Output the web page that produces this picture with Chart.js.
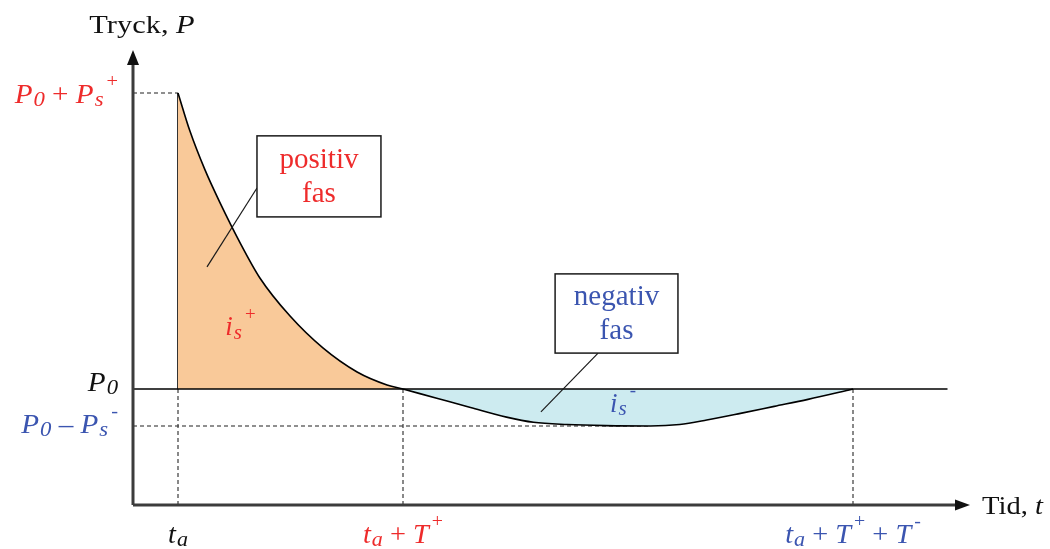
<!DOCTYPE html>
<html>
<head>
<meta charset="utf-8">
<script src="https://cdn.jsdelivr.net/npm/chart.js@4/dist/chart.umd.min.js"></script>
<style>
  html, body { margin: 0; padding: 0; background: #ffffff; }
  #wrap { width: 1050px; height: 549px; }
</style>
</head>
<body>
<div id="wrap"><canvas id="c" width="1050" height="549"></canvas></div>
<script>
// Blast wave: overpressure versus time (Friedlander-type record)
// Time axis in arbitrary units, pressure axis in kPa.
const arrivalTime = 2;          // t_a
const positiveEnd = 12;         // t_a + T+
const negativeEnd = 32;         // t_a + T+ + T-
const ambientP = 100;           // P0
const peakP = 180;              // P0 + Ps+
const minP = 90;                // P0 - Ps-

// positive phase (decay from peak back to ambient)
const posTime = [2, 2.53, 3.2, 3.87, 4.76, 5.64, 6.98, 8.44, 9.96, 11.29, 12];
const posPressure = [180, 169.7, 159.2, 150.3, 139.5, 130, 119.7, 111.1, 104.6, 101.1, 100];

// negative phase (underpressure and recovery)
const negTime = [12, 13.5, 15, 16.6, 17.8, 19.3, 21, 23, 24.3, 25.5, 27, 28.5, 30, 32];
const negPressure = [100, 97.5, 95.0, 92.4, 91.0, 90.4, 90.1, 90.0, 90.4, 91.6, 93.4, 95.3, 97.2, 100];

const RED = '#ee2b2b';
const BLUE = '#3b55b0';
const SERIF = '"Liberation Serif", "Times New Roman", serif';

// rich labels: segments {t: text, i: italic, s: 'sub' | 'sup'}
const yTickLabels = [
  { value: peakP, dy: 10, color: RED, segs: [{t:'P', i:1}, {t:'0', i:1, s:'sub'}, {t:' + '}, {t:'P', i:1}, {t:'s', i:1, s:'sub'}, {t:'+', s:'sup'}] },
  { value: ambientP, dy: 2, color: '#111111', segs: [{t:'P', i:1}, {t:'0', i:1, s:'sub'}] },
  { value: minP, dy: 7, color: BLUE, segs: [{t:'P', i:1}, {t:'0', i:1, s:'sub'}, {t:' \u2013 '}, {t:'P', i:1}, {t:'s', i:1, s:'sub'}, {t:'-', s:'sup'}] }
];
const xTickLabels = [
  { value: arrivalTime, color: '#111111', segs: [{t:'t', i:1}, {t:'a', i:1, s:'sub'}] },
  { value: positiveEnd, color: RED, segs: [{t:'t', i:1}, {t:'a', i:1, s:'sub'}, {t:' + '}, {t:'T', i:1}, {t:'+', s:'sup'}] },
  { value: negativeEnd, color: BLUE, segs: [{t:'t', i:1}, {t:'a', i:1, s:'sub'}, {t:' + '}, {t:'T', i:1}, {t:'+', s:'sup'}, {t:' + '}, {t:'T', i:1}, {t:'-', s:'sup'}] }
];

function toPoints(xs, ys) { return xs.map((x, k) => ({ x: x, y: ys[k] })); }

function fontFor(seg, size) {
  const sz = seg.s === 'sub' ? size * 0.78 : seg.s === 'sup' ? size * 0.7 : size;
  return (seg.i ? 'italic ' : '') + sz + 'px ' + SERIF;
}

function drawRich(ctx, segs, x, y, align, color, size, sx) {
  sx = sx || 1;
  ctx.save();
  ctx.fillStyle = color;
  ctx.textBaseline = 'alphabetic';
  ctx.textAlign = 'left';
  let total = 0;
  const widths = segs.map(seg => {
    ctx.font = fontFor(seg, size);
    const gap = seg.s === 'sup' ? 3 : seg.s === 'sub' ? 1 : 0;
    const w = ctx.measureText(seg.t).width * sx + gap;
    total += w;
    return w;
  });
  let cx = align === 'right' ? x - total : align === 'center' ? x - total / 2 : x;
  segs.forEach((seg, k) => {
    ctx.font = fontFor(seg, size);
    let dy = 0, gx = 0;
    if (seg.s === 'sub') { dy = size * 0.12; gx = 1; }
    if (seg.s === 'sup') { dy = -size * 0.58; gx = 3; }
    ctx.save();
    ctx.translate(cx + gx, y + dy);
    ctx.scale(sx, 1);
    ctx.fillText(seg.t, 0, 0);
    ctx.restore();
    cx += widths[k];
  });
  ctx.restore();
}

const diagramPlugin = {
  id: 'diagram',
  beforeDatasetsDraw(chart) {
    const ctx = chart.ctx, xs = chart.scales.x, ys = chart.scales.y, area = chart.chartArea;
    const X = v => xs.getPixelForValue(v), Y = v => ys.getPixelForValue(v);
    ctx.save();
    // reference dashes
    ctx.setLineDash([4, 3]);
    ctx.lineWidth = 1.5;
    ctx.strokeStyle = '#6b6b6b';
    ctx.beginPath();
    ctx.moveTo(area.left, Y(peakP)); ctx.lineTo(X(arrivalTime), Y(peakP));
    ctx.moveTo(area.left, Y(minP)); ctx.lineTo(X(23), Y(minP));
    ctx.stroke();
    ctx.lineWidth = 1.2;
    ctx.strokeStyle = '#3a3a3a';
    ctx.beginPath();
    [arrivalTime, positiveEnd, negativeEnd].forEach(t => {
      ctx.moveTo(X(t), Y(ambientP)); ctx.lineTo(X(t), area.bottom);
    });
    ctx.stroke();
    ctx.restore();
  },
  afterDatasetsDraw(chart) {
    const ctx = chart.ctx, xs = chart.scales.x, ys = chart.scales.y, area = chart.chartArea;
    const X = v => xs.getPixelForValue(v), Y = v => ys.getPixelForValue(v);
    ctx.save();
    // ambient pressure line
    ctx.strokeStyle = '#000000';
    ctx.lineWidth = 1.5;
    ctx.beginPath();
    ctx.moveTo(area.left, Y(ambientP)); ctx.lineTo(X(36.2), Y(ambientP));
    ctx.stroke();

    // axes with arrows
    ctx.strokeStyle = '#3c3c3c';
    ctx.fillStyle = '#111111';
    ctx.lineWidth = 3;
    ctx.beginPath();
    ctx.moveTo(area.left, area.bottom); ctx.lineTo(area.left, area.top + 10);
    ctx.moveTo(area.left, area.bottom); ctx.lineTo(area.right - 10, area.bottom);
    ctx.stroke();
    ctx.beginPath();
    ctx.moveTo(area.left, area.top); ctx.lineTo(area.left - 6, area.top + 15); ctx.lineTo(area.left + 6, area.top + 15); ctx.closePath();
    ctx.fill();
    ctx.beginPath();
    ctx.moveTo(area.right, area.bottom); ctx.lineTo(area.right - 15, area.bottom - 5.5); ctx.lineTo(area.right - 15, area.bottom + 5.5); ctx.closePath();
    ctx.fill();

    // axis titles
    drawRich(ctx, [{t:'Tryck, '}, {t:'P', i:1}], area.left + 9, area.top - 17, 'center', '#111111', 26, 1.17);
    drawRich(ctx, [{t:'Tid, '}, {t:'t', i:1}], area.right + 12, area.bottom + 9, 'left', '#111111', 26, 1.1);

    // tick labels
    yTickLabels.forEach(l => drawRich(ctx, l.segs, area.left - 15, Y(l.value) + l.dy, 'right', l.color, 27, 1.08));
    xTickLabels.forEach(l => drawRich(ctx, l.segs, X(l.value), area.bottom + 38, 'center', l.color, 27, 1.05));

    // phase call-out boxes with leader lines
    const boxes = [
      { x0: 5.51, x1: 11.02, y0: 168.4, y1: 146.5, lead: [5.51, 154.3, 3.29, 133], color: RED, lines: ['positiv', 'fas'] },
      { x0: 18.76, x1: 24.22, y0: 131.1, y1: 109.7, lead: [20.67, 109.7, 18.13, 93.8], color: BLUE, lines: ['negativ', 'fas'] }
    ];
    boxes.forEach(b => {
      ctx.strokeStyle = '#1a1a1a';
      ctx.lineWidth = 1.2;
      ctx.beginPath();
      ctx.moveTo(X(b.lead[0]), Y(b.lead[1])); ctx.lineTo(X(b.lead[2]), Y(b.lead[3]));
      ctx.stroke();
      const bx = X(b.x0), by = Y(b.y0), bw = X(b.x1) - bx, bh = Y(b.y1) - by;
      ctx.fillStyle = '#ffffff';
      ctx.fillRect(bx, by, bw, bh);
      ctx.lineWidth = 1.5;
      ctx.strokeRect(bx, by, bw, bh);
      ctx.fillStyle = b.color;
      ctx.font = '29px ' + SERIF;
      ctx.textAlign = 'center';
      ctx.textBaseline = 'middle';
      ctx.fillText(b.lines[0], bx + bw / 2, by + bh * 0.3);
      ctx.fillText(b.lines[1], bx + bw / 2, by + bh * 0.72);
    });

    // impulse labels inside the filled areas
    drawRich(ctx, [{t:'i', i:1}, {t:'s', i:1, s:'sub'}, {t:'+', s:'sup'}], X(4.1), Y(114.5), 'left', RED, 27, 1.0);
    drawRich(ctx, [{t:'i', i:1}, {t:'s', i:1, s:'sub'}, {t:'-', s:'sup'}], X(21.2), Y(93.8), 'left', BLUE, 27, 1.0);
    ctx.restore();
  }
};

new Chart(document.getElementById('c'), {
  type: 'line',
  data: {
    datasets: [
      {
        label: 'positiv fas',
        data: toPoints(posTime, posPressure),
        borderColor: '#000000',
        borderWidth: 1.6,
        backgroundColor: '#f9c999',
        fill: { value: ambientP },
        cubicInterpolationMode: 'monotone',
        pointRadius: 0
      },
      {
        label: 'negativ fas',
        data: toPoints(negTime, negPressure),
        borderColor: '#000000',
        borderWidth: 1.6,
        backgroundColor: '#cdebf0',
        fill: { value: ambientP },
        cubicInterpolationMode: 'monotone',
        pointRadius: 0
      },
      {
        label: 'ankomst',
        data: [{ x: arrivalTime, y: ambientP }, { x: arrivalTime, y: peakP }],
        borderColor: '#000000',
        borderWidth: 1.6,
        fill: false,
        pointRadius: 0
      }
    ]
  },
  options: {
    responsive: false,
    animation: false,
    devicePixelRatio: 1,
    layout: { padding: { left: 133, right: 80, top: 50, bottom: 44 } },
    plugins: { legend: { display: false }, tooltip: { enabled: false } },
    scales: {
      x: { type: 'linear', display: false, min: 0, max: 37.2 },
      y: { type: 'linear', display: false, min: 68.65, max: 191.6 }
    }
  },
  plugins: [diagramPlugin]
});
</script>
</body>
</html>
